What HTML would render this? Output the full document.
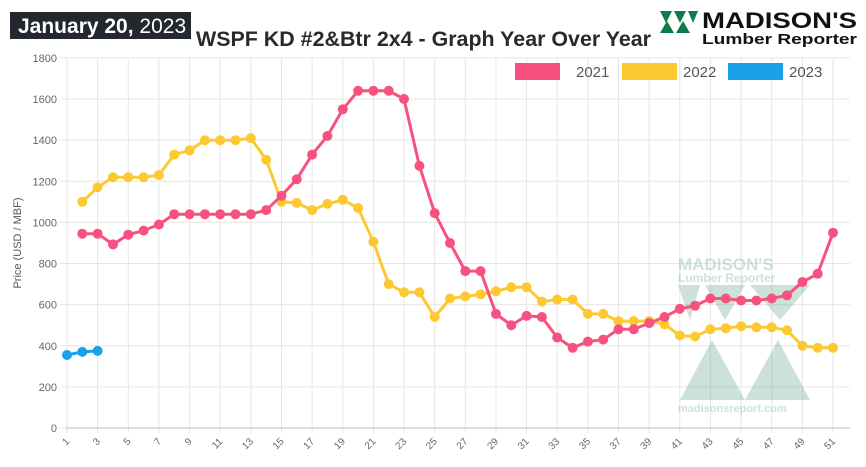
<!DOCTYPE html>
<html><head><style>
body{margin:0;background:#fff;width:866px;height:462px;overflow:hidden;font-family:"Liberation Sans",sans-serif}
</style></head><body>
<svg id="s" width="866" height="462" xmlns="http://www.w3.org/2000/svg" font-family="Liberation Sans, sans-serif">
<rect x="10" y="12" width="181" height="27" fill="#23272e"/>
<text x="18" y="33" font-size="21" fill="#fff"><tspan font-weight="bold">January 20,</tspan> 2023</text>
<text x="196" y="46" font-size="21" font-weight="bold" fill="#2a2a2a" textLength="455" lengthAdjust="spacingAndGlyphs">WSPF KD #2&amp;Btr 2x4 - Graph Year Over Year</text>
<g fill="#0f7a4a">
<polygon points="660,11 672,11 666,23"/><polygon points="674,11 686,11 680,23"/><polygon points="688,11 698,11 693,23"/>
<polygon points="660,33 667,21 674,33"/><polygon points="676,33 683,21 690,33"/>
</g>
<text x="702" y="28" font-size="22" font-weight="bold" fill="#111" textLength="155" lengthAdjust="spacingAndGlyphs">MADISON'S</text>
<text x="702" y="44" font-size="15" font-weight="bold" fill="#111" textLength="155" lengthAdjust="spacingAndGlyphs">Lumber Reporter</text>
<g id="grid"></g>
<g opacity="0.3" fill="#5a9f87">
<text x="678" y="270" font-size="17" font-weight="bold">MADISON'S</text>
<text x="678" y="282" font-size="12" font-weight="bold">Lumber Reporter</text>
<polygon points="678,285 700,285 690,320"/><polygon points="705,285 745,285 725,320"/><polygon points="750,285 810,285 780,320"/>
<polygon points="680,400 712,340 745,400"/><polygon points="745,400 778,340 810,400"/>
<text x="678" y="412" font-size="11" font-weight="bold">madisonsreport.com</text>
</g>
<rect x="515" y="63" width="45" height="17" fill="#f7527f"/><text x="576" y="77" font-size="15" fill="#555">2021</text>
<rect x="622" y="63" width="55" height="17" fill="#fdc933"/><text x="683" y="77" font-size="15" fill="#555">2022</text>
<rect x="728" y="63" width="55" height="17" fill="#1aa1e8"/><text x="789" y="77" font-size="15" fill="#555">2023</text>
<text transform="translate(21,243) rotate(-90)" font-size="11" fill="#555" text-anchor="middle">Price (USD / MBF)</text>
<g id="d"></g>
</svg>
<script>
const X=w=>67+(w-1)*15.32, Y=v=>428-v*0.2056;
let g='';
for(let v=0;v<=1800;v+=200){g+=`<line x1="60" x2="850" y1="${Y(v)}" y2="${Y(v)}" stroke="#e6e6e6"/><text x="57" y="${Y(v)+4}" font-size="11" fill="#666" text-anchor="end">${v}</text>`;}
for(let w=1;w<=51;w+=2){g+=`<line x1="${X(w)}" x2="${X(w)}" y1="58" y2="433" stroke="#e6e6e6"/><text transform="translate(${X(w)+3},442) rotate(-45)" font-size="10" fill="#666" text-anchor="end">${w}</text>`;}
g+=`<line x1="66" x2="850" y1="428" y2="428" stroke="#bbb"/>`;
document.getElementById('grid').innerHTML=g;
const a=[945,945,893,940,960,990,1040,1040,1040,1040,1040,1040,1060,1130,1210,1330,1420,1550,1640,1640,1640,1600,1275,1045,900,763,763,555,500,545,540,440,390,420,430,480,480,510,540,580,595,630,630,620,620,630,645,710,750,950];
const b=[1100,1170,1220,1220,1220,1230,1330,1350,1400,1400,1400,1410,1305,1100,1095,1060,1090,1110,1070,905,700,660,660,540,630,640,650,665,685,685,615,625,625,555,555,520,520,520,505,450,445,480,485,495,490,490,475,400,390,390];
const c=[355,370,375];
function s(arr,start,col){let p=arr.map((v,i)=>X(start+i).toFixed(1)+','+Y(v).toFixed(1));let o=`<polyline points="${p.join(' ')}" fill="none" stroke="${col}" stroke-width="3"/>`;p.forEach(q=>{let [x,y]=q.split(',');o+=`<circle cx="${x}" cy="${y}" r="5" fill="${col}"/>`});return o;}
document.getElementById('d').innerHTML=s(b,2,'#fdc933')+s(a,2,'#f7527f')+s(c,1,'#1aa1e8');
</script>
</body></html>
